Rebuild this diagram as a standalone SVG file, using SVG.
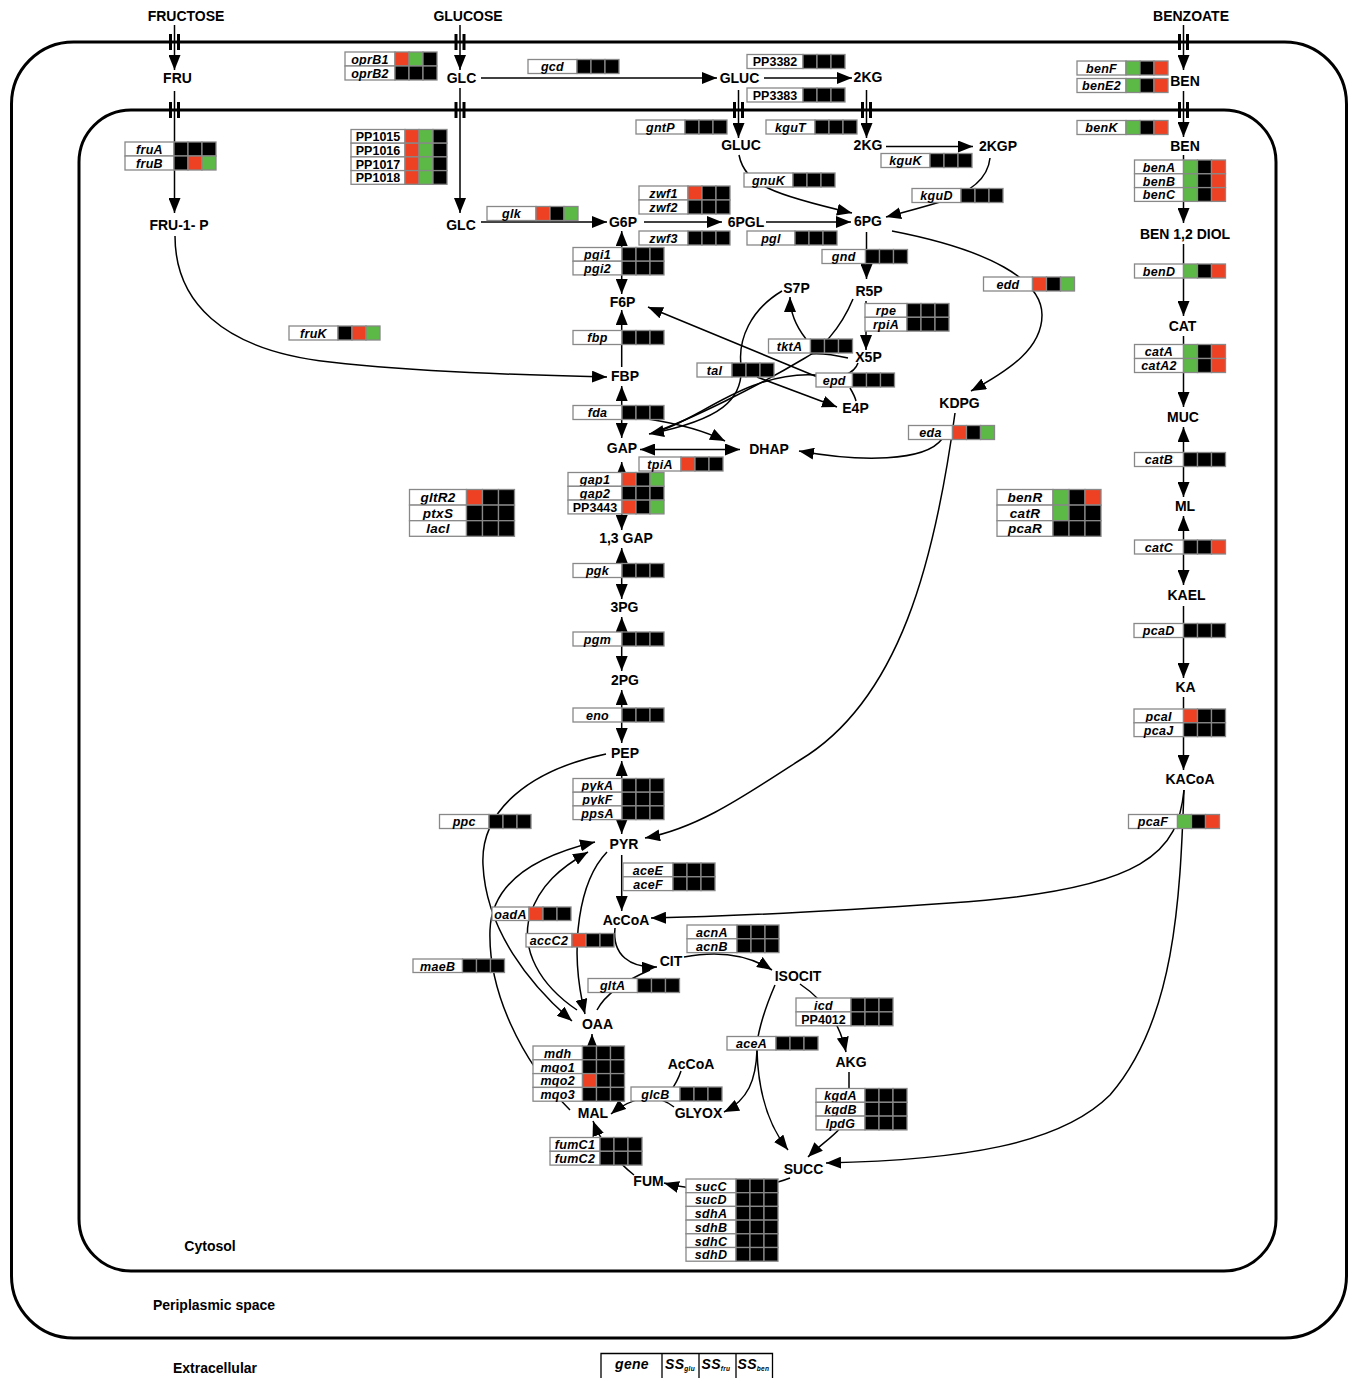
<svg xmlns="http://www.w3.org/2000/svg" width="1354" height="1378" viewBox="0 0 1354 1378">
<defs>
<marker id="ah" viewBox="0 0 15 12" markerWidth="15" markerHeight="12" refX="15" refY="6" orient="auto-start-reverse" markerUnits="userSpaceOnUse"><path d="M0,0 L15,6 L0,12 z" fill="#000"/></marker>
</defs>
<style>
.n{font-family:"Liberation Sans",Arial,sans-serif;font-weight:bold;font-size:14px;text-anchor:middle;fill:#000}
.t{font-family:"Liberation Sans",Arial,sans-serif;font-weight:bold;font-style:italic;font-size:12.5px;letter-spacing:0.3px;text-anchor:middle;fill:#000}
.p{font-style:normal;letter-spacing:0}
.l{fill:#fff;stroke:#888;stroke-width:1.3}
.k{fill:#000;stroke:#888;stroke-width:1.3}
.r{fill:#ee4123;stroke:#888;stroke-width:1.3}
.g{fill:#5cb946;stroke:#888;stroke-width:1.3}
.c{fill:none;stroke:#000;stroke-width:1.5}
.e{marker-end:url(#ah)}
.s{marker-start:url(#ah)}
.m{fill:none;stroke:#000;stroke-width:3}
</style>
<rect width="1354" height="1378" fill="#fff"/>
<g id="membranes">
<rect class="m" x="11.5" y="42" width="1335" height="1296" rx="62"/>
<rect class="m" x="79" y="110" width="1197" height="1161" rx="52"/>
</g>
<g id="connectors">
<path class="c e" d="M174.5 25 V70"/>
<path class="c e" d="M174.5 91 V213"/>
<path class="c e" d="M460 25 V70"/>
<path class="c e" d="M460 88 V213"/>
<path class="c e" d="M481 78 H717"/>
<path class="c e" d="M764 78 H852"/>
<path class="c e" d="M738.5 90 V138"/>
<path class="c e" d="M866.5 90 V138"/>
<path class="c e" d="M886 146.5 H973"/>
<path class="c e" d="M739 155 C745 185 775 195 852 213"/>
<path class="c e" d="M990 158 C988 178 970 193 940 202 C920 208 905 212 886 217"/>
<path class="c e" d="M481 222 H607"/>
<path class="c e" d="M644 222 H722"/>
<path class="c e" d="M766 222 H851"/>
<path class="c e" d="M866.5 232 V279"/>
<path class="c e" d="M892 231 C990 250 1042 280 1042 315 C1042 348 1010 370 971 391"/>
<path class="c e" d="M866 301 V350"/>
<path class="c e s" d="M621.7 231 V294"/>
<path class="c e" d="M621.7 367 V310"/>
<path class="c e s" d="M621.7 386 V438"/>
<path class="c e s" d="M640 449.5 H740"/>
<path class="c e" d="M648 419 C680 424 705 431 725 441"/>
<path class="c e" d="M942 439 C925 462 860 462 799 451"/>
<path class="c e" d="M955 413 C935 560 900 700 800 760 C750 792 700 828 645 838"/>
<path class="c e" d="M175 236 C175 300 220 350 330 362 C420 372 520 375 607 377"/>
<path class="c e" d="M806 339 C795 325 790 312 790 297"/>
<path class="c e" d="M782 291 C750 310 738 340 741 365 C744 400 720 420 649 434"/>
<path class="c" d="M853 299 C840 330 820 350 805 358 C760 385 690 420 652 433"/>
<path class="c" d="M848 358 C835 355 822 353 810 354"/>
<path class="c e" d="M858 363 C855 372 840 382 815 376 L648 307"/>
<path class="c" d="M816 375 C770 372 730 395 700 412 C680 423 665 430 652 433"/>
<path class="c" d="M850 388 C853 393 855 397 856 401"/>
<path class="c e" d="M757 377 L837 407"/>
<path class="c e s" d="M621.7 462 V530"/>
<path class="c e s" d="M621.7 548 V599"/>
<path class="c e s" d="M621.7 617 V671"/>
<path class="c e s" d="M621.7 690 V743"/>
<path class="c e s" d="M621.7 761 V834"/>
<path class="c e" d="M621.7 855 V911"/>
<path class="c e" d="M606 754 C530 770 480 810 483 865 C486 930 530 985 572 1021"/>
<path class="c e" d="M570 1110 C520 1060 488 990 490 930 C492 880 540 855 595 842"/>
<path class="c e" d="M577 1010 C540 985 520 950 530 915 C540 885 560 868 588 852"/>
<path class="c e" d="M607 852 C580 880 568 945 585 1014"/>
<path class="c e" d="M615 928 C612 955 630 968 657 967"/>
<path class="c" d="M597 1010 C605 995 622 982 650 970"/>
<path class="c e" d="M684 957 C720 950 750 956 772 970"/>
<path class="c e" d="M800 984 C818 996 838 1015 846 1052"/>
<path class="c" d="M775 985 C762 1015 756 1040 757 1050"/>
<path class="c e" d="M757 1050 C756 1080 748 1100 724 1112"/>
<path class="c e" d="M757 1050 C758 1090 768 1125 788 1150"/>
<path class="c e" d="M849 1072 L849 1110 C846 1130 825 1140 808 1157"/>
<path class="c e" d="M1184 790 C1180 900 1175 1020 1110 1095 C1060 1145 960 1160 826 1163"/>
<path class="c e" d="M1184 790 C1178 850 1150 890 950 903 C850 910 750 916 651 918"/>
<path class="c e" d="M790 1178 C760 1190 700 1193 664 1183"/>
<path class="c e" d="M634 1175 C615 1160 600 1140 593 1121"/>
<path class="c e" d="M592 1060 V1034"/>
<path class="c" d="M681 1071 C678 1080 675 1085 670 1092"/>
<path class="c e" d="M674 1107 C655 1092 630 1098 611 1114"/>
<path class="c e" d="M1183.5 25 V70"/>
<path class="c e" d="M1183.5 91 V137"/>
<path class="c e" d="M1183.5 155 V223"/>
<path class="c e" d="M1183.5 244 V316"/>
<path class="c e" d="M1183.5 336 V407"/>
<path class="c e s" d="M1183.5 427 V497"/>
<path class="c e s" d="M1183.5 516 V585"/>
<path class="c e" d="M1183.5 606 V678"/>
<path class="c e" d="M1183.5 697 V770"/>
</g>
<g id="channels" fill="#000">
<rect x="169" y="34" width="3" height="16"/><rect x="177" y="34" width="3" height="16"/>
<rect x="454.5" y="34" width="3" height="16"/><rect x="462.5" y="34" width="3" height="16"/>
<rect x="1178" y="34" width="3" height="16"/><rect x="1186" y="34" width="3" height="16"/>
<rect x="169" y="102" width="3" height="16"/><rect x="177" y="102" width="3" height="16"/>
<rect x="454.5" y="102" width="3" height="16"/><rect x="462.5" y="102" width="3" height="16"/>
<rect x="733" y="102" width="3" height="16"/><rect x="741" y="102" width="3" height="16"/>
<rect x="861" y="102" width="3" height="16"/><rect x="869" y="102" width="3" height="16"/>
<rect x="1178" y="102" width="3" height="16"/><rect x="1186" y="102" width="3" height="16"/>
</g>
<g id="nodes">
<g id="n-fructose"><text class="n" x="186" y="21">FRUCTOSE</text></g>
<g id="n-glucose"><text class="n" x="468" y="21">GLUCOSE</text></g>
<g id="n-benzoate"><text class="n" x="1191" y="21">BENZOATE</text></g>
<g id="n-fru"><text class="n" x="177.5" y="83">FRU</text></g>
<g id="n-glc1"><text class="n" x="461.5" y="83">GLC</text></g>
<g id="n-gluc1"><text class="n" x="739.5" y="83">GLUC</text></g>
<g id="n-2kg1"><text class="n" x="868" y="82">2KG</text></g>
<g id="n-ben1"><text class="n" x="1185" y="86">BEN</text></g>
<g id="n-gluc2"><text class="n" x="741" y="150">GLUC</text></g>
<g id="n-2kg2"><text class="n" x="868" y="150">2KG</text></g>
<g id="n-2kgp"><text class="n" x="998" y="151">2KGP</text></g>
<g id="n-ben2"><text class="n" x="1185" y="151">BEN</text></g>
<g id="n-fru1p"><text class="n" x="179" y="230">FRU-1- P</text></g>
<g id="n-glc2"><text class="n" x="461" y="230">GLC</text></g>
<g id="n-g6p"><text class="n" x="623" y="227">G6P</text></g>
<g id="n-6pgl"><text class="n" x="746" y="227">6PGL</text></g>
<g id="n-6pg"><text class="n" x="868" y="226">6PG</text></g>
<g id="n-bendiol"><text class="n" x="1185" y="239">BEN 1,2 DIOL</text></g>
<g id="n-s7p"><text class="n" x="796.5" y="293">S7P</text></g>
<g id="n-r5p"><text class="n" x="869" y="296">R5P</text></g>
<g id="n-f6p"><text class="n" x="622.5" y="307">F6P</text></g>
<g id="n-x5p"><text class="n" x="868.5" y="362">X5P</text></g>
<g id="n-fbp"><text class="n" x="625" y="381">FBP</text></g>
<g id="n-e4p"><text class="n" x="855.5" y="413">E4P</text></g>
<g id="n-kdpg"><text class="n" x="959.5" y="408">KDPG</text></g>
<g id="n-gap"><text class="n" x="622" y="453">GAP</text></g>
<g id="n-dhap"><text class="n" x="769" y="454">DHAP</text></g>
<g id="n-cat"><text class="n" x="1182.5" y="331">CAT</text></g>
<g id="n-muc"><text class="n" x="1183" y="422">MUC</text></g>
<g id="n-ml"><text class="n" x="1185" y="511">ML</text></g>
<g id="n-kael"><text class="n" x="1186.5" y="600">KAEL</text></g>
<g id="n-ka"><text class="n" x="1185.5" y="692">KA</text></g>
<g id="n-kacoa"><text class="n" x="1190" y="784">KACoA</text></g>
<g id="n-13gap"><text class="n" x="626" y="543">1,3 GAP</text></g>
<g id="n-3pg"><text class="n" x="624.5" y="612">3PG</text></g>
<g id="n-2pg"><text class="n" x="625" y="685">2PG</text></g>
<g id="n-pep"><text class="n" x="625" y="758">PEP</text></g>
<g id="n-pyr"><text class="n" x="624" y="849">PYR</text></g>
<g id="n-accoa1"><text class="n" x="626" y="925">AcCoA</text></g>
<g id="n-cit"><text class="n" x="671" y="966">CIT</text></g>
<g id="n-oaa"><text class="n" x="597.5" y="1029">OAA</text></g>
<g id="n-isocit"><text class="n" x="798" y="981">ISOCIT</text></g>
<g id="n-akg"><text class="n" x="851" y="1067">AKG</text></g>
<g id="n-accoa2"><text class="n" x="691" y="1069">AcCoA</text></g>
<g id="n-mal"><text class="n" x="593" y="1118">MAL</text></g>
<g id="n-glyox"><text class="n" x="698.5" y="1118">GLYOX</text></g>
<g id="n-succ"><text class="n" x="803.5" y="1174">SUCC</text></g>
<g id="n-fum"><text class="n" x="648.5" y="1186">FUM</text></g>
<g id="n-cytosol"><text class="n" x="210" y="1251">Cytosol</text></g>
<g id="n-peri"><text class="n" x="214" y="1310">Periplasmic space</text></g>
<g id="n-extra"><text class="n" x="215" y="1373">Extracellular</text></g>
</g>
<g id="genes">
<g id="gb-oprB" transform="translate(345,52)">
<rect class="l" x="0" y="0" width="50" height="14"/><text class="t" x="25" y="11.8">oprB1</text><rect class="r" x="50" y="0" width="14" height="14"/><rect class="g" x="64" y="0" width="14" height="14"/><rect class="k" x="78" y="0" width="14" height="14"/>
<rect class="l" x="0" y="14" width="50" height="14"/><text class="t" x="25" y="25.8">oprB2</text><rect class="k" x="50" y="14" width="14" height="14"/><rect class="k" x="64" y="14" width="14" height="14"/><rect class="k" x="78" y="14" width="14" height="14"/>
</g>
<g id="gb-PP1015" transform="translate(351,129.5)">
<rect class="l" x="0" y="0" width="54" height="13.7"/><text class="t p" x="27" y="11.7">PP1015</text><rect class="r" x="54" y="0" width="14" height="13.7"/><rect class="g" x="68" y="0" width="14" height="13.7"/><rect class="k" x="82" y="0" width="14" height="13.7"/>
<rect class="l" x="0" y="13.7" width="54" height="13.7"/><text class="t p" x="27" y="25.4">PP1016</text><rect class="r" x="54" y="13.7" width="14" height="13.7"/><rect class="g" x="68" y="13.7" width="14" height="13.7"/><rect class="k" x="82" y="13.7" width="14" height="13.7"/>
<rect class="l" x="0" y="27.4" width="54" height="13.7"/><text class="t p" x="27" y="39.1">PP1017</text><rect class="r" x="54" y="27.4" width="14" height="13.7"/><rect class="g" x="68" y="27.4" width="14" height="13.7"/><rect class="k" x="82" y="27.4" width="14" height="13.7"/>
<rect class="l" x="0" y="41.1" width="54" height="13.7"/><text class="t p" x="27" y="52.8">PP1018</text><rect class="r" x="54" y="41.1" width="14" height="13.7"/><rect class="g" x="68" y="41.1" width="14" height="13.7"/><rect class="k" x="82" y="41.1" width="14" height="13.7"/>
</g>
<g id="gb-fru" transform="translate(125,142)">
<rect class="l" x="0" y="0" width="49" height="14"/><text class="t" x="24.5" y="11.8">fruA</text><rect class="k" x="49" y="0" width="14" height="14"/><rect class="k" x="63" y="0" width="14" height="14"/><rect class="k" x="77" y="0" width="14" height="14"/>
<rect class="l" x="0" y="14" width="49" height="14"/><text class="t" x="24.5" y="25.8">fruB</text><rect class="k" x="49" y="14" width="14" height="14"/><rect class="r" x="63" y="14" width="14" height="14"/><rect class="g" x="77" y="14" width="14" height="14"/>
</g>
<g id="gb-gcd" transform="translate(528,59.5)">
<rect class="l" x="0" y="0" width="49" height="14"/><text class="t" x="24.5" y="11.8">gcd</text><rect class="k" x="49" y="0" width="14" height="14"/><rect class="k" x="63" y="0" width="14" height="14"/><rect class="k" x="77" y="0" width="14" height="14"/>
</g>
<g id="gb-PP3382" transform="translate(747,54.5)">
<rect class="l" x="0" y="0" width="56" height="14"/><text class="t p" x="28" y="11.8">PP3382</text><rect class="k" x="56" y="0" width="14" height="14"/><rect class="k" x="70" y="0" width="14" height="14"/><rect class="k" x="84" y="0" width="14" height="14"/>
</g>
<g id="gb-PP3383" transform="translate(747,88)">
<rect class="l" x="0" y="0" width="56" height="14"/><text class="t p" x="28" y="11.8">PP3383</text><rect class="k" x="56" y="0" width="14" height="14"/><rect class="k" x="70" y="0" width="14" height="14"/><rect class="k" x="84" y="0" width="14" height="14"/>
</g>
<g id="gb-gntP" transform="translate(636,120)">
<rect class="l" x="0" y="0" width="49" height="14"/><text class="t" x="24.5" y="11.8">gntP</text><rect class="k" x="49" y="0" width="14" height="14"/><rect class="k" x="63" y="0" width="14" height="14"/><rect class="k" x="77" y="0" width="14" height="14"/>
</g>
<g id="gb-kguT" transform="translate(766,120)">
<rect class="l" x="0" y="0" width="49" height="14"/><text class="t" x="24.5" y="11.8">kguT</text><rect class="k" x="49" y="0" width="14" height="14"/><rect class="k" x="63" y="0" width="14" height="14"/><rect class="k" x="77" y="0" width="14" height="14"/>
</g>
<g id="gb-kguK" transform="translate(881,153.5)">
<rect class="l" x="0" y="0" width="49" height="14"/><text class="t" x="24.5" y="11.8">kguK</text><rect class="k" x="49" y="0" width="14" height="14"/><rect class="k" x="63" y="0" width="14" height="14"/><rect class="k" x="77" y="0" width="14" height="14"/>
</g>
<g id="gb-gnuK" transform="translate(744,173)">
<rect class="l" x="0" y="0" width="49" height="14"/><text class="t" x="24.5" y="11.8">gnuK</text><rect class="k" x="49" y="0" width="14" height="14"/><rect class="k" x="63" y="0" width="14" height="14"/><rect class="k" x="77" y="0" width="14" height="14"/>
</g>
<g id="gb-kguD" transform="translate(912,188.5)">
<rect class="l" x="0" y="0" width="49" height="14"/><text class="t" x="24.5" y="11.8">kguD</text><rect class="k" x="49" y="0" width="14" height="14"/><rect class="k" x="63" y="0" width="14" height="14"/><rect class="k" x="77" y="0" width="14" height="14"/>
</g>
<g id="gb-zwf" transform="translate(639,186)">
<rect class="l" x="0" y="0" width="49" height="14"/><text class="t" x="24.5" y="11.8">zwf1</text><rect class="r" x="49" y="0" width="14" height="14"/><rect class="k" x="63" y="0" width="14" height="14"/><rect class="k" x="77" y="0" width="14" height="14"/>
<rect class="l" x="0" y="14" width="49" height="14"/><text class="t" x="24.5" y="25.8">zwf2</text><rect class="k" x="49" y="14" width="14" height="14"/><rect class="k" x="63" y="14" width="14" height="14"/><rect class="k" x="77" y="14" width="14" height="14"/>
</g>
<g id="gb-zwf3" transform="translate(639,231)">
<rect class="l" x="0" y="0" width="49" height="14"/><text class="t" x="24.5" y="11.8">zwf3</text><rect class="k" x="49" y="0" width="14" height="14"/><rect class="k" x="63" y="0" width="14" height="14"/><rect class="k" x="77" y="0" width="14" height="14"/>
</g>
<g id="gb-glk" transform="translate(487,206.5)">
<rect class="l" x="0" y="0" width="49" height="14"/><text class="t" x="24.5" y="11.8">glk</text><rect class="r" x="49" y="0" width="14" height="14"/><rect class="k" x="63" y="0" width="14" height="14"/><rect class="g" x="77" y="0" width="14" height="14"/>
</g>
<g id="gb-pgl" transform="translate(747,231)">
<rect class="l" x="0" y="0" width="48" height="14"/><text class="t" x="24" y="11.8">pgl</text><rect class="k" x="48" y="0" width="14" height="14"/><rect class="k" x="62" y="0" width="14" height="14"/><rect class="k" x="76" y="0" width="14" height="14"/>
</g>
<g id="gb-gnd" transform="translate(822,249.5)">
<rect class="l" x="0" y="0" width="43.5" height="14"/><text class="t" x="21.7" y="11.8">gnd</text><rect class="k" x="43.5" y="0" width="14" height="14"/><rect class="k" x="57.5" y="0" width="14" height="14"/><rect class="k" x="71.5" y="0" width="14" height="14"/>
</g>
<g id="gb-pgi" transform="translate(573,247.5)">
<rect class="l" x="0" y="0" width="49" height="13.7"/><text class="t" x="24.5" y="11.7">pgi1</text><rect class="k" x="49" y="0" width="14" height="13.7"/><rect class="k" x="63" y="0" width="14" height="13.7"/><rect class="k" x="77" y="0" width="14" height="13.7"/>
<rect class="l" x="0" y="13.7" width="49" height="13.7"/><text class="t" x="24.5" y="25.4">pgi2</text><rect class="k" x="49" y="13.7" width="14" height="13.7"/><rect class="k" x="63" y="13.7" width="14" height="13.7"/><rect class="k" x="77" y="13.7" width="14" height="13.7"/>
</g>
<g id="gb-edd" transform="translate(983.5,277)">
<rect class="l" x="0" y="0" width="49" height="14"/><text class="t" x="24.5" y="11.8">edd</text><rect class="r" x="49" y="0" width="14" height="14"/><rect class="k" x="63" y="0" width="14" height="14"/><rect class="g" x="77" y="0" width="14" height="14"/>
</g>
<g id="gb-rpe" transform="translate(865,303.5)">
<rect class="l" x="0" y="0" width="42" height="13.8"/><text class="t" x="21" y="11.7">rpe</text><rect class="k" x="42" y="0" width="14" height="13.8"/><rect class="k" x="56" y="0" width="14" height="13.8"/><rect class="k" x="70" y="0" width="14" height="13.8"/>
<rect class="l" x="0" y="13.8" width="42" height="13.8"/><text class="t" x="21" y="25.5">rpiA</text><rect class="k" x="42" y="13.8" width="14" height="13.8"/><rect class="k" x="56" y="13.8" width="14" height="13.8"/><rect class="k" x="70" y="13.8" width="14" height="13.8"/>
</g>
<g id="gb-fruK" transform="translate(289,326)">
<rect class="l" x="0" y="0" width="49" height="14"/><text class="t" x="24.5" y="11.8">fruK</text><rect class="k" x="49" y="0" width="14" height="14"/><rect class="r" x="63" y="0" width="14" height="14"/><rect class="g" x="77" y="0" width="14" height="14"/>
</g>
<g id="gb-fbp" transform="translate(573,330.5)">
<rect class="l" x="0" y="0" width="49" height="14"/><text class="t" x="24.5" y="11.8">fbp</text><rect class="k" x="49" y="0" width="14" height="14"/><rect class="k" x="63" y="0" width="14" height="14"/><rect class="k" x="77" y="0" width="14" height="14"/>
</g>
<g id="gb-tktA" transform="translate(768.5,339)">
<rect class="l" x="0" y="0" width="42" height="14"/><text class="t" x="21" y="11.8">tktA</text><rect class="k" x="42" y="0" width="14" height="14"/><rect class="k" x="56" y="0" width="14" height="14"/><rect class="k" x="70" y="0" width="14" height="14"/>
</g>
<g id="gb-tal" transform="translate(697,363)">
<rect class="l" x="0" y="0" width="35" height="14"/><text class="t" x="17.5" y="11.8">tal</text><rect class="k" x="35" y="0" width="14" height="14"/><rect class="k" x="49" y="0" width="14" height="14"/><rect class="k" x="63" y="0" width="14" height="14"/>
</g>
<g id="gb-epd" transform="translate(816,373)">
<rect class="l" x="0" y="0" width="36.5" height="14"/><text class="t" x="18.2" y="11.8">epd</text><rect class="k" x="36.5" y="0" width="14" height="14"/><rect class="k" x="50.5" y="0" width="14" height="14"/><rect class="k" x="64.5" y="0" width="14" height="14"/>
</g>
<g id="gb-fda" transform="translate(573,405.5)">
<rect class="l" x="0" y="0" width="49" height="14"/><text class="t" x="24.5" y="11.8">fda</text><rect class="k" x="49" y="0" width="14" height="14"/><rect class="k" x="63" y="0" width="14" height="14"/><rect class="k" x="77" y="0" width="14" height="14"/>
</g>
<g id="gb-eda" transform="translate(908.5,425.5)">
<rect class="l" x="0" y="0" width="44" height="14"/><text class="t" x="22" y="11.8">eda</text><rect class="r" x="44" y="0" width="14" height="14"/><rect class="k" x="58" y="0" width="14" height="14"/><rect class="g" x="72" y="0" width="14" height="14"/>
</g>
<g id="gb-tpiA" transform="translate(639,457)">
<rect class="l" x="0" y="0" width="42" height="14"/><text class="t" x="21" y="11.8">tpiA</text><rect class="r" x="42" y="0" width="14" height="14"/><rect class="k" x="56" y="0" width="14" height="14"/><rect class="k" x="70" y="0" width="14" height="14"/>
</g>
<g id="gb-gap" transform="translate(568,472.5)">
<rect class="l" x="0" y="0" width="54" height="13.8"/><text class="t" x="27" y="11.7">gap1</text><rect class="r" x="54" y="0" width="14" height="13.8"/><rect class="k" x="68" y="0" width="14" height="13.8"/><rect class="g" x="82" y="0" width="14" height="13.8"/>
<rect class="l" x="0" y="13.8" width="54" height="13.8"/><text class="t" x="27" y="25.5">gap2</text><rect class="k" x="54" y="13.8" width="14" height="13.8"/><rect class="k" x="68" y="13.8" width="14" height="13.8"/><rect class="k" x="82" y="13.8" width="14" height="13.8"/>
<rect class="l" x="0" y="27.6" width="54" height="13.8"/><text class="t p" x="27" y="39.3">PP3443</text><rect class="r" x="54" y="27.6" width="14" height="13.8"/><rect class="k" x="68" y="27.6" width="14" height="13.8"/><rect class="g" x="82" y="27.6" width="14" height="13.8"/>
</g>
<g id="gb-gltR2" transform="translate(409.5,489.5)">
<rect class="l" x="0" y="0" width="57" height="15.6"/><text class="t" x="28.5" y="12.6" style="font-size:13.5px">gltR2</text><rect class="r" x="57" y="0" width="16" height="15.6"/><rect class="k" x="73" y="0" width="16" height="15.6"/><rect class="k" x="89" y="0" width="16" height="15.6"/>
<rect class="l" x="0" y="15.6" width="57" height="15.6"/><text class="t" x="28.5" y="28.2" style="font-size:13.5px">ptxS</text><rect class="k" x="57" y="15.6" width="16" height="15.6"/><rect class="k" x="73" y="15.6" width="16" height="15.6"/><rect class="k" x="89" y="15.6" width="16" height="15.6"/>
<rect class="l" x="0" y="31.2" width="57" height="15.6"/><text class="t" x="28.5" y="43.8" style="font-size:13.5px">lacI</text><rect class="k" x="57" y="31.2" width="16" height="15.6"/><rect class="k" x="73" y="31.2" width="16" height="15.6"/><rect class="k" x="89" y="31.2" width="16" height="15.6"/>
</g>
<g id="gb-benR" transform="translate(997,489.5)">
<rect class="l" x="0" y="0" width="56" height="15.6"/><text class="t" x="28" y="12.6" style="font-size:13.5px">benR</text><rect class="g" x="56" y="0" width="16" height="15.6"/><rect class="k" x="72" y="0" width="16" height="15.6"/><rect class="r" x="88" y="0" width="16" height="15.6"/>
<rect class="l" x="0" y="15.6" width="56" height="15.6"/><text class="t" x="28" y="28.2" style="font-size:13.5px">catR</text><rect class="g" x="56" y="15.6" width="16" height="15.6"/><rect class="k" x="72" y="15.6" width="16" height="15.6"/><rect class="k" x="88" y="15.6" width="16" height="15.6"/>
<rect class="l" x="0" y="31.2" width="56" height="15.6"/><text class="t" x="28" y="43.8" style="font-size:13.5px">pcaR</text><rect class="k" x="56" y="31.2" width="16" height="15.6"/><rect class="k" x="72" y="31.2" width="16" height="15.6"/><rect class="k" x="88" y="31.2" width="16" height="15.6"/>
</g>
<g id="gb-pgk" transform="translate(573,563.5)">
<rect class="l" x="0" y="0" width="49" height="14"/><text class="t" x="24.5" y="11.8">pgk</text><rect class="k" x="49" y="0" width="14" height="14"/><rect class="k" x="63" y="0" width="14" height="14"/><rect class="k" x="77" y="0" width="14" height="14"/>
</g>
<g id="gb-pgm" transform="translate(573,632)">
<rect class="l" x="0" y="0" width="49" height="14"/><text class="t" x="24.5" y="11.8">pgm</text><rect class="k" x="49" y="0" width="14" height="14"/><rect class="k" x="63" y="0" width="14" height="14"/><rect class="k" x="77" y="0" width="14" height="14"/>
</g>
<g id="gb-eno" transform="translate(573,708)">
<rect class="l" x="0" y="0" width="49" height="14"/><text class="t" x="24.5" y="11.8">eno</text><rect class="k" x="49" y="0" width="14" height="14"/><rect class="k" x="63" y="0" width="14" height="14"/><rect class="k" x="77" y="0" width="14" height="14"/>
</g>
<g id="gb-pyk" transform="translate(573,778.5)">
<rect class="l" x="0" y="0" width="49" height="13.7"/><text class="t" x="24.5" y="11.7">pykA</text><rect class="k" x="49" y="0" width="14" height="13.7"/><rect class="k" x="63" y="0" width="14" height="13.7"/><rect class="k" x="77" y="0" width="14" height="13.7"/>
<rect class="l" x="0" y="13.7" width="49" height="13.7"/><text class="t" x="24.5" y="25.4">pykF</text><rect class="k" x="49" y="13.7" width="14" height="13.7"/><rect class="k" x="63" y="13.7" width="14" height="13.7"/><rect class="k" x="77" y="13.7" width="14" height="13.7"/>
<rect class="l" x="0" y="27.4" width="49" height="13.7"/><text class="t" x="24.5" y="39.1">ppsA</text><rect class="k" x="49" y="27.4" width="14" height="13.7"/><rect class="k" x="63" y="27.4" width="14" height="13.7"/><rect class="k" x="77" y="27.4" width="14" height="13.7"/>
</g>
<g id="gb-ppc" transform="translate(439.5,814.5)">
<rect class="l" x="0" y="0" width="49.5" height="14"/><text class="t" x="24.7" y="11.8">ppc</text><rect class="k" x="49.5" y="0" width="14" height="14"/><rect class="k" x="63.5" y="0" width="14" height="14"/><rect class="k" x="77.5" y="0" width="14" height="14"/>
</g>
<g id="gb-ace" transform="translate(623,863)">
<rect class="l" x="0" y="0" width="50" height="13.8"/><text class="t" x="25" y="11.7">aceE</text><rect class="k" x="50" y="0" width="14" height="13.8"/><rect class="k" x="64" y="0" width="14" height="13.8"/><rect class="k" x="78" y="0" width="14" height="13.8"/>
<rect class="l" x="0" y="13.8" width="50" height="13.8"/><text class="t" x="25" y="25.5">aceF</text><rect class="k" x="50" y="13.8" width="14" height="13.8"/><rect class="k" x="64" y="13.8" width="14" height="13.8"/><rect class="k" x="78" y="13.8" width="14" height="13.8"/>
</g>
<g id="gb-oadA" transform="translate(492,907)">
<rect class="l" x="0" y="0" width="37" height="13.5"/><text class="t" x="18.5" y="11.5">oadA</text><rect class="r" x="37" y="0" width="14" height="13.5"/><rect class="k" x="51" y="0" width="14" height="13.5"/><rect class="k" x="65" y="0" width="14" height="13.5"/>
</g>
<g id="gb-accC2" transform="translate(526,933.5)">
<rect class="l" x="0" y="0" width="46" height="13.5"/><text class="t" x="23" y="11.5">accC2</text><rect class="r" x="46" y="0" width="14" height="13.5"/><rect class="k" x="60" y="0" width="14" height="13.5"/><rect class="k" x="74" y="0" width="14" height="13.5"/>
</g>
<g id="gb-acn" transform="translate(687,925)">
<rect class="l" x="0" y="0" width="50" height="13.8"/><text class="t" x="25" y="11.7">acnA</text><rect class="k" x="50" y="0" width="14" height="13.8"/><rect class="k" x="64" y="0" width="14" height="13.8"/><rect class="k" x="78" y="0" width="14" height="13.8"/>
<rect class="l" x="0" y="13.8" width="50" height="13.8"/><text class="t" x="25" y="25.5">acnB</text><rect class="k" x="50" y="13.8" width="14" height="13.8"/><rect class="k" x="64" y="13.8" width="14" height="13.8"/><rect class="k" x="78" y="13.8" width="14" height="13.8"/>
</g>
<g id="gb-maeB" transform="translate(413,959)">
<rect class="l" x="0" y="0" width="49.5" height="13.5"/><text class="t" x="24.7" y="11.5">maeB</text><rect class="k" x="49.5" y="0" width="14" height="13.5"/><rect class="k" x="63.5" y="0" width="14" height="13.5"/><rect class="k" x="77.5" y="0" width="14" height="13.5"/>
</g>
<g id="gb-gltA" transform="translate(588,978.5)">
<rect class="l" x="0" y="0" width="49.5" height="14"/><text class="t" x="24.7" y="11.8">gltA</text><rect class="k" x="49.5" y="0" width="14" height="14"/><rect class="k" x="63.5" y="0" width="14" height="14"/><rect class="k" x="77.5" y="0" width="14" height="14"/>
</g>
<g id="gb-icd" transform="translate(796,998)">
<rect class="l" x="0" y="0" width="55" height="13.9"/><text class="t" x="27.5" y="11.7">icd</text><rect class="k" x="55" y="0" width="14" height="13.9"/><rect class="k" x="69" y="0" width="14" height="13.9"/><rect class="k" x="83" y="0" width="14" height="13.9"/>
<rect class="l" x="0" y="13.9" width="55" height="13.9"/><text class="t p" x="27.5" y="25.6">PP4012</text><rect class="k" x="55" y="13.9" width="14" height="13.9"/><rect class="k" x="69" y="13.9" width="14" height="13.9"/><rect class="k" x="83" y="13.9" width="14" height="13.9"/>
</g>
<g id="gb-aceA" transform="translate(727,1036.5)">
<rect class="l" x="0" y="0" width="49" height="13.5"/><text class="t" x="24.5" y="11.5">aceA</text><rect class="k" x="49" y="0" width="14" height="13.5"/><rect class="k" x="63" y="0" width="14" height="13.5"/><rect class="k" x="77" y="0" width="14" height="13.5"/>
</g>
<g id="gb-mdh" transform="translate(533,1046)">
<rect class="l" x="0" y="0" width="49.5" height="13.8"/><text class="t" x="24.7" y="11.7">mdh</text><rect class="k" x="49.5" y="0" width="14" height="13.8"/><rect class="k" x="63.5" y="0" width="14" height="13.8"/><rect class="k" x="77.5" y="0" width="14" height="13.8"/>
<rect class="l" x="0" y="13.8" width="49.5" height="13.8"/><text class="t" x="24.7" y="25.5">mqo1</text><rect class="k" x="49.5" y="13.8" width="14" height="13.8"/><rect class="k" x="63.5" y="13.8" width="14" height="13.8"/><rect class="k" x="77.5" y="13.8" width="14" height="13.8"/>
<rect class="l" x="0" y="27.6" width="49.5" height="13.8"/><text class="t" x="24.7" y="39.3">mqo2</text><rect class="r" x="49.5" y="27.6" width="14" height="13.8"/><rect class="k" x="63.5" y="27.6" width="14" height="13.8"/><rect class="k" x="77.5" y="27.6" width="14" height="13.8"/>
<rect class="l" x="0" y="41.4" width="49.5" height="13.8"/><text class="t" x="24.7" y="53.1">mqo3</text><rect class="k" x="49.5" y="41.4" width="14" height="13.8"/><rect class="k" x="63.5" y="41.4" width="14" height="13.8"/><rect class="k" x="77.5" y="41.4" width="14" height="13.8"/>
</g>
<g id="gb-glcB" transform="translate(631,1087)">
<rect class="l" x="0" y="0" width="49" height="14"/><text class="t" x="24.5" y="11.8">glcB</text><rect class="k" x="49" y="0" width="14" height="14"/><rect class="k" x="63" y="0" width="14" height="14"/><rect class="k" x="77" y="0" width="14" height="14"/>
</g>
<g id="gb-kgd" transform="translate(816,1088.5)">
<rect class="l" x="0" y="0" width="49" height="13.8"/><text class="t" x="24.5" y="11.7">kgdA</text><rect class="k" x="49" y="0" width="14" height="13.8"/><rect class="k" x="63" y="0" width="14" height="13.8"/><rect class="k" x="77" y="0" width="14" height="13.8"/>
<rect class="l" x="0" y="13.8" width="49" height="13.8"/><text class="t" x="24.5" y="25.5">kgdB</text><rect class="k" x="49" y="13.8" width="14" height="13.8"/><rect class="k" x="63" y="13.8" width="14" height="13.8"/><rect class="k" x="77" y="13.8" width="14" height="13.8"/>
<rect class="l" x="0" y="27.6" width="49" height="13.8"/><text class="t" x="24.5" y="39.3">lpdG</text><rect class="k" x="49" y="27.6" width="14" height="13.8"/><rect class="k" x="63" y="27.6" width="14" height="13.8"/><rect class="k" x="77" y="27.6" width="14" height="13.8"/>
</g>
<g id="gb-fumC" transform="translate(550,1137.5)">
<rect class="l" x="0" y="0" width="50" height="13.8"/><text class="t" x="25" y="11.7">fumC1</text><rect class="k" x="50" y="0" width="14" height="13.8"/><rect class="k" x="64" y="0" width="14" height="13.8"/><rect class="k" x="78" y="0" width="14" height="13.8"/>
<rect class="l" x="0" y="13.8" width="50" height="13.8"/><text class="t" x="25" y="25.5">fumC2</text><rect class="k" x="50" y="13.8" width="14" height="13.8"/><rect class="k" x="64" y="13.8" width="14" height="13.8"/><rect class="k" x="78" y="13.8" width="14" height="13.8"/>
</g>
<g id="gb-suc" transform="translate(686,1179)">
<rect class="l" x="0" y="0" width="50" height="13.7"/><text class="t" x="25" y="11.7">sucC</text><rect class="k" x="50" y="0" width="14" height="13.7"/><rect class="k" x="64" y="0" width="14" height="13.7"/><rect class="k" x="78" y="0" width="14" height="13.7"/>
<rect class="l" x="0" y="13.7" width="50" height="13.7"/><text class="t" x="25" y="25.4">sucD</text><rect class="k" x="50" y="13.7" width="14" height="13.7"/><rect class="k" x="64" y="13.7" width="14" height="13.7"/><rect class="k" x="78" y="13.7" width="14" height="13.7"/>
<rect class="l" x="0" y="27.4" width="50" height="13.7"/><text class="t" x="25" y="39.1">sdhA</text><rect class="k" x="50" y="27.4" width="14" height="13.7"/><rect class="k" x="64" y="27.4" width="14" height="13.7"/><rect class="k" x="78" y="27.4" width="14" height="13.7"/>
<rect class="l" x="0" y="41.1" width="50" height="13.7"/><text class="t" x="25" y="52.8">sdhB</text><rect class="k" x="50" y="41.1" width="14" height="13.7"/><rect class="k" x="64" y="41.1" width="14" height="13.7"/><rect class="k" x="78" y="41.1" width="14" height="13.7"/>
<rect class="l" x="0" y="54.8" width="50" height="13.7"/><text class="t" x="25" y="66.5">sdhC</text><rect class="k" x="50" y="54.8" width="14" height="13.7"/><rect class="k" x="64" y="54.8" width="14" height="13.7"/><rect class="k" x="78" y="54.8" width="14" height="13.7"/>
<rect class="l" x="0" y="68.5" width="50" height="13.7"/><text class="t" x="25" y="80.2">sdhD</text><rect class="k" x="50" y="68.5" width="14" height="13.7"/><rect class="k" x="64" y="68.5" width="14" height="13.7"/><rect class="k" x="78" y="68.5" width="14" height="13.7"/>
</g>
<g id="gb-benF" transform="translate(1077,61)">
<rect class="l" x="0" y="0" width="49" height="14"/><text class="t" x="24.5" y="11.8">benF</text><rect class="g" x="49" y="0" width="14" height="14"/><rect class="k" x="63" y="0" width="14" height="14"/><rect class="r" x="77" y="0" width="14" height="14"/>
</g>
<g id="gb-benE2" transform="translate(1077,78.5)">
<rect class="l" x="0" y="0" width="49" height="14"/><text class="t" x="24.5" y="11.8">benE2</text><rect class="g" x="49" y="0" width="14" height="14"/><rect class="k" x="63" y="0" width="14" height="14"/><rect class="r" x="77" y="0" width="14" height="14"/>
</g>
<g id="gb-benK" transform="translate(1077,120.5)">
<rect class="l" x="0" y="0" width="49" height="14"/><text class="t" x="24.5" y="11.8">benK</text><rect class="g" x="49" y="0" width="14" height="14"/><rect class="k" x="63" y="0" width="14" height="14"/><rect class="r" x="77" y="0" width="14" height="14"/>
</g>
<g id="gb-benABC" transform="translate(1134.5,160)">
<rect class="l" x="0" y="0" width="49" height="13.8"/><text class="t" x="24.5" y="11.7">benA</text><rect class="g" x="49" y="0" width="14" height="13.8"/><rect class="k" x="63" y="0" width="14" height="13.8"/><rect class="r" x="77" y="0" width="14" height="13.8"/>
<rect class="l" x="0" y="13.8" width="49" height="13.8"/><text class="t" x="24.5" y="25.5">benB</text><rect class="g" x="49" y="13.8" width="14" height="13.8"/><rect class="k" x="63" y="13.8" width="14" height="13.8"/><rect class="r" x="77" y="13.8" width="14" height="13.8"/>
<rect class="l" x="0" y="27.6" width="49" height="13.8"/><text class="t" x="24.5" y="39.3">benC</text><rect class="g" x="49" y="27.6" width="14" height="13.8"/><rect class="k" x="63" y="27.6" width="14" height="13.8"/><rect class="r" x="77" y="27.6" width="14" height="13.8"/>
</g>
<g id="gb-benD" transform="translate(1134.5,264)">
<rect class="l" x="0" y="0" width="49" height="14"/><text class="t" x="24.5" y="11.8">benD</text><rect class="g" x="49" y="0" width="14" height="14"/><rect class="k" x="63" y="0" width="14" height="14"/><rect class="r" x="77" y="0" width="14" height="14"/>
</g>
<g id="gb-catA" transform="translate(1134.5,344.5)">
<rect class="l" x="0" y="0" width="49" height="14"/><text class="t" x="24.5" y="11.8">catA</text><rect class="g" x="49" y="0" width="14" height="14"/><rect class="k" x="63" y="0" width="14" height="14"/><rect class="r" x="77" y="0" width="14" height="14"/>
<rect class="l" x="0" y="14" width="49" height="14"/><text class="t" x="24.5" y="25.8">catA2</text><rect class="g" x="49" y="14" width="14" height="14"/><rect class="k" x="63" y="14" width="14" height="14"/><rect class="r" x="77" y="14" width="14" height="14"/>
</g>
<g id="gb-catB" transform="translate(1134.5,452.5)">
<rect class="l" x="0" y="0" width="49" height="14"/><text class="t" x="24.5" y="11.8">catB</text><rect class="k" x="49" y="0" width="14" height="14"/><rect class="k" x="63" y="0" width="14" height="14"/><rect class="k" x="77" y="0" width="14" height="14"/>
</g>
<g id="gb-catC" transform="translate(1134.5,540)">
<rect class="l" x="0" y="0" width="49" height="14"/><text class="t" x="24.5" y="11.8">catC</text><rect class="k" x="49" y="0" width="14" height="14"/><rect class="k" x="63" y="0" width="14" height="14"/><rect class="r" x="77" y="0" width="14" height="14"/>
</g>
<g id="gb-pcaD" transform="translate(1134,623.5)">
<rect class="l" x="0" y="0" width="49.5" height="14"/><text class="t" x="24.7" y="11.8">pcaD</text><rect class="k" x="49.5" y="0" width="14" height="14"/><rect class="k" x="63.5" y="0" width="14" height="14"/><rect class="k" x="77.5" y="0" width="14" height="14"/>
</g>
<g id="gb-pcaIJ" transform="translate(1134,709)">
<rect class="l" x="0" y="0" width="49.5" height="13.8"/><text class="t" x="24.7" y="11.7">pcaI</text><rect class="r" x="49.5" y="0" width="14" height="13.8"/><rect class="k" x="63.5" y="0" width="14" height="13.8"/><rect class="k" x="77.5" y="0" width="14" height="13.8"/>
<rect class="l" x="0" y="13.8" width="49.5" height="13.8"/><text class="t" x="24.7" y="25.5">pcaJ</text><rect class="k" x="49.5" y="13.8" width="14" height="13.8"/><rect class="k" x="63.5" y="13.8" width="14" height="13.8"/><rect class="k" x="77.5" y="13.8" width="14" height="13.8"/>
</g>
<g id="gb-pcaF" transform="translate(1128.5,814.5)">
<rect class="l" x="0" y="0" width="49" height="14"/><text class="t" x="24.5" y="11.8">pcaF</text><rect class="g" x="49" y="0" width="14" height="14"/><rect class="k" x="63" y="0" width="14" height="14"/><rect class="r" x="77" y="0" width="14" height="14"/>
</g>
</g>
<g id="legend">
<path d="M601 1378 V1353.5 H772.5 V1378 M662 1353.5 V1378 M699 1353.5 V1378 M736 1353.5 V1378" fill="none" stroke="#000" stroke-width="1.3"/>
<text class="t" x="632" y="1369" style="font-size:14px">gene</text>
<text class="t" x="665" y="1369" style="font-size:14px;text-anchor:start">SS<tspan style="font-size:6.5px" dy="2">glu</tspan></text>
<text class="t" x="701.5" y="1369" style="font-size:14px;text-anchor:start">SS<tspan style="font-size:6.5px" dy="2">fru</tspan></text>
<text class="t" x="737.5" y="1369" style="font-size:14px;text-anchor:start">SS<tspan style="font-size:6.5px" dy="2">ben</tspan></text>
</g>
</svg>
